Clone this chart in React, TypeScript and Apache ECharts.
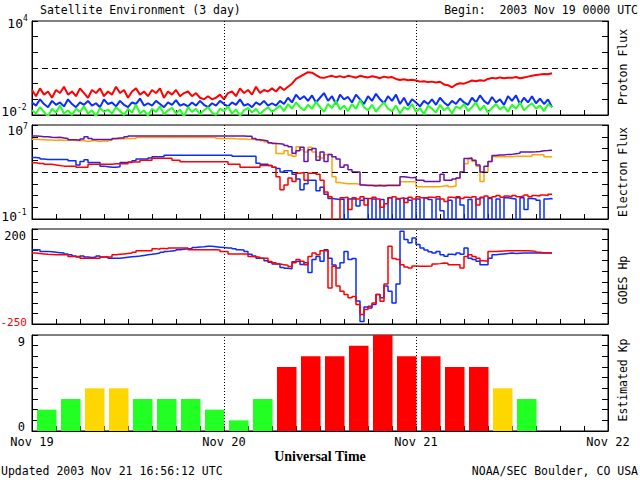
import React, { useEffect, useRef } from 'react';
import * as echarts from 'echarts';

// time step of all sampled series, hours from 2003 Nov 19 00:00 UTC
const STEP_H = 0.5;
const dayLabels = ['Nov 19', 'Nov 20', 'Nov 21', 'Nov 22'];

// Panel 1: proton flux (log10 of value)
const protonRedLog = [
  -0.4, -0.8, -0.3, -0.7, -0.5, -0.9, -0.4, -0.6, -0.2, -0.7,
  -0.5, -0.8, -0.3, -0.6, -0.9, -0.4, -0.6, -0.3, -0.8, -0.5,
  -0.7, -0.2, -0.6, -0.4, -0.9, -0.5, -0.3, -0.7, -0.5, -0.8,
  -0.4, -0.6, -0.3, -0.9, -0.5, -0.7, -0.4, -0.8, -0.6, -0.5,
  -0.8, -0.6, -0.9, -1.0, -0.8, -1.0, -0.9, -0.7, -1.0, -0.6,
  -0.5, -0.8, -0.3, -0.6, -0.4, -0.7, -0.2, -0.6, -0.4, -0.5,
  -0.3, -0.5, -0.2, -0.4, -0.2, 0.0, 0.3, 0.45, 0.6, 0.73,
  0.7, 0.55, 0.4, 0.37, 0.45, 0.5, 0.42, 0.48, 0.4, 0.5,
  0.45, 0.38, 0.5, 0.44, 0.4, 0.47, 0.42, 0.35, 0.45, 0.4,
  0.42, 0.3, 0.24, 0.28, 0.22, 0.25, 0.2, 0.13, 0.16, 0.1,
  0.13, 0.08, 0.12, -0.05, -0.1, -0.23, -0.05, 0.03, 0.0, 0.1,
  0.2, 0.15, 0.22, 0.18, 0.3, 0.37, 0.33, 0.4, 0.35, 0.38,
  0.37, 0.42, 0.35, 0.4, 0.45, 0.5, 0.55, 0.58, 0.62, 0.6,
  0.67,
];
const protonBlueLog = [
  -1.2, -1.4, -1.0, -1.3, -1.5, -1.1, -1.35, -1.2, -1.45, -1.0,
  -1.3, -1.5, -1.2, -1.35, -1.1, -1.4, -1.25, -1.5, -1.0, -1.3,
  -1.2, -1.45, -1.1, -1.35, -1.5, -1.2, -1.3, -0.95, -1.4, -1.25,
  -1.4, -1.1, -1.3, -1.5, -1.2, -1.35, -1.05, -1.4, -1.3, -1.45,
  -1.2, -1.4, -1.1, -1.35, -1.5, -1.25, -1.4, -1.1, -1.3, -1.45,
  -1.2, -1.35, -1.0, -1.4, -1.3, -1.5, -1.2, -1.35, -1.1, -1.4,
  -1.25, -1.4, -1.1, -1.3, -0.9, -1.2, -0.7, -1.0, -0.8, -1.1,
  -0.75, -1.2, -0.9, -0.6, -1.1, -0.8, -1.3, -0.7, -1.0, -0.85,
  -1.2, -0.7, -1.0, -1.3, -0.8, -1.1, -0.65, -1.0, -1.25, -0.8,
  -1.1, -0.7, -1.3, -0.9, -1.4, -1.0, -1.2, -1.45, -1.1, -1.3,
  -1.0, -1.35, -0.9, -1.2, -1.4, -1.1, -1.3, -0.95, -1.2, -1.35,
  -0.9, -1.2, -0.75, -1.1, -1.3, -0.85, -1.2, -1.0, -1.35, -0.8,
  -1.1, -0.75, -1.3, -0.9, -1.2, -0.8, -1.25, -0.95, -1.3, -1.0,
  -1.5,
];
const protonGreenLog = [
  -1.7, -1.9, -1.5, -1.8, -2.1, -1.6, -1.85, -1.4, -1.9, -1.7,
  -2.0, -1.6, -1.8, -1.45, -1.9, -1.7, -2.1, -1.55, -1.8, -1.65,
  -1.9, -1.5, -1.75, -2.0, -1.6, -1.85, -1.35, -1.9, -1.7, -2.05,
  -1.6, -1.8, -1.45, -1.95, -1.7, -1.55, -1.9, -1.65, -2.1, -1.5,
  -1.8, -1.6, -1.95, -1.7, -1.5, -1.85, -2.0, -1.6, -1.75, -1.45,
  -1.9, -1.65, -2.05, -1.7, -1.55, -1.85, -1.6, -1.95, -1.7, -1.5,
  -1.8, -1.6, -1.4, -1.75, -1.3, -1.6, -1.2, -1.5, -1.7, -1.35,
  -1.6, -1.15, -1.5, -1.8, -1.3, -1.55, -1.1, -1.65, -1.4, -1.75,
  -1.3, -1.6, -1.05, -1.5, -1.7, -1.35, -1.8, -1.45, -1.2, -1.6,
  -1.75, -1.4, -1.9, -1.5, -1.65, -1.3, -1.8, -1.55, -1.95, -1.4,
  -1.6, -1.85, -1.35, -1.7, -1.5, -1.9, -1.45, -1.6, -1.3, -1.75,
  -1.5, -1.2, -1.7, -1.4, -1.85, -1.55, -1.3, -1.65, -1.45, -1.8,
  -1.35, -1.6, -1.2, -1.7, -1.45, -1.25, -1.6, -1.4, -1.75, -1.3,
  -1.5,
];

// Panel 2: electron flux (log10 of value)
const elecPurpleLog = [
  6.07, 6.05, 6.0, 6.0, 5.95, 5.93, 5.95, 5.9, 5.85, 5.75,
  5.75, 5.7, 5.8, 6.0, 5.85, 5.76, 5.76, 5.76, 5.76, 5.76,
  5.85, 5.9, 5.9, 6.0, 6.07, 6.07, 6.07, 6.07, 6.07, 6.07,
  6.07, 6.07, 6.07, 6.07, 6.07, 6.07, 6.07, 6.07, 6.07, 6.07,
  6.07, 6.07, 6.07, 6.07, 6.07, 6.07, 6.07, 6.07, 6.07, 6.07,
  6.07, 6.07, 6.07, 6.05, 6.05, 5.85, 5.75, 5.7, 5.64, 5.5,
  5.42, 5.4, 5.37, 5.25, 5.14, 4.6, 4.8, 5.1, 3.9, 4.9,
  5.0, 4.0, 4.7, 3.9, 4.5, 4.3, 4.1, 3.4, 3.6, 3.2,
  3.0, 3.0, 1.9, 1.85, 1.85, 1.8, 1.85, 1.8, 1.85, 1.85,
  1.85, 1.85, 2.6, 2.55, 2.5, 2.55, 2.3, 2.3, 2.2, 2.2,
  2.2, 2.2, 2.8, 2.3, 2.3, 2.4, 2.5, 3.0, 4.15, 4.2,
  4.0, 3.6, 3.0, 3.5, 3.9, 4.4, 4.45, 4.45, 4.5, 4.5,
  4.55, 4.6, 4.7, 4.7, 4.7, 4.72, 4.75, 4.8, 4.82, 4.85,
  4.87,
];
const elecOrangeLog = [
  5.78, 5.77, 5.75, 5.72, 5.72, 5.7, 5.72, 5.7, 5.7, 5.7,
  5.68, 5.65, 5.65, 5.6, 5.65, 5.65, 5.6, 5.65, 5.62, 5.7,
  5.8, 5.8, 5.82, 5.85, 5.85, 5.85, 5.93, 5.93, 5.93, 5.93,
  5.93, 5.93, 5.93, 5.93, 5.93, 5.93, 5.93, 5.93, 5.93, 5.93,
  5.93, 5.93, 5.93, 5.93, 5.93, 5.93, 5.85, 5.85, 5.85, 5.85,
  5.82, 5.8, 5.8, 5.78, 5.77, 5.77, 5.77, 5.65, 5.55, 5.45,
  5.45, 4.58, 4.55, 4.8, 4.45, 4.35, 5.14, 4.9, 4.7, 5.1,
  4.7, 4.3, 4.2, 4.5, 4.5, 2.6, 2.1, 2.05, 2.0, 2.0,
  2.0, 1.95, 1.9, 1.9, 1.9, 1.9, 1.9, 1.9, 1.9, 1.9,
  1.9, 1.9, 2.17, 2.17, 2.17, 2.17, 1.75, 1.75, 1.75, 1.75,
  1.75, 1.75, 1.8, 1.85, 1.75, 1.8, 2.5, 3.0, 3.7, 4.1,
  3.9, 3.5, 2.2, 3.0, 3.9, 4.3, 4.3, 4.3, 4.3, 4.3,
  4.35, 4.35, 4.35, 4.35, 4.35, 4.47, 4.47, 4.47, 4.3, 4.3,
  4.3,
];
const elecBlueLog = [
  4.24, 4.2, 4.1, 4.07, 4.07, 4.07, 4.07, 4.07, 4.07, 3.95,
  3.95, 3.6, 3.9, 4.05, 3.8, 3.8, 3.8, 3.5, 3.45, 3.4,
  3.4, 3.45, 3.8, 3.8, 3.8, 3.95, 4.1, 4.1, 4.1, 4.2,
  4.3, 4.3, 4.3, 4.43, 4.43, 4.43, 4.43, 4.43, 4.43, 4.43,
  4.43, 4.43, 4.43, 4.43, 4.43, 4.43, 4.43, 4.43, 4.43, 4.43,
  4.35, 4.35, 4.35, 4.35, 4.35, 4.35, 3.75, 3.65, 3.65, 3.55,
  3.4, 3.3, 3.0, 3.1, 3.1, 2.8, 2.4, 1.5, 2.0, 2.3,
  2.3, 1.4, 1.7, 1.1, 0.75, 0.7, 0.65, 0.7, -1.2, 0.7,
  0.7, 0.1, 0.6, 0.75, -1.2, 0.7, -1.2, 0.65, -1.2, 0.8,
  -1.2, 0.7, -1.2, 0.75, 0.6, -1.2, 0.7, -1.2, 0.8, 0.65,
  -1.2, 0.7, -0.3, -1.2, 0.6, -1.2, 0.8, 0.2, -1.2, 0.65,
  -1.2, 0.7, 0.8, -1.2, 0.75, -1.2, 0.7, -1.2, 0.8, 0.75,
  0.7, -1.2, 0.8, -0.2, 0.75, 0.7, 0.6, -1.2, 0.7, 0.75,
  0.65,
];
const elecRedLog = [
  3.78, 3.72, 3.72, 3.65, 3.65, 3.6, 3.55, 3.5, 3.5, 3.5,
  3.5, 3.4, 3.4, 3.4, 3.65, 3.65, 3.65, 3.65, 3.65, 3.65,
  3.7, 3.7, 3.7, 3.7, 3.85, 3.85, 3.85, 4.0, 4.0, 4.0,
  4.18, 4.18, 4.18, 4.18, 4.18, 4.0, 4.0, 3.87, 3.87, 3.87,
  3.87, 3.87, 3.87, 3.87, 3.87, 3.87, 3.87, 3.87, 3.87, 3.66,
  3.66, 3.66, 3.4, 3.4, 3.4, 3.4, 3.4, 3.55, 3.55, 3.55,
  3.4, 2.6, 1.5, 1.9, 2.5, 2.2, 2.9, 2.95, 2.3, 2.9,
  2.9, 2.8, 2.3, 1.3, 0.9, -1.2, -1.2, 0.8, 0.85, -0.2,
  0.8, 0.7, 0.9, 0.2, 0.75, 0.85, 0.7, 0.0, 0.3, 0.8,
  0.9, 0.75, 0.8, 0.4, 0.85, 0.7, 0.9, 0.8, 0.75, 0.85,
  0.8, 0.9, 0.7, 0.5, 0.85, 0.8, 0.9, 0.75, 0.85, 0.8,
  0.9, 0.2, 0.85, 0.95, 0.8, 0.9, 1.0, 0.85, 0.95, 0.9,
  1.0, 0.9, 0.95, 1.05, 0.9, 1.0, 0.95, 1.05, 1.0, 1.1,
  1.13,
];

// Panel 3: GOES Hp (nT)
const hpBlue = [
  102, 102, 94, 94, 92, 90, 88, 86, 82, 78,
  72, 67, 72, 67, 65, 67, 72, 67, 67, 62,
  62, 62, 64, 66, 68, 70, 72, 75, 78, 80,
  83, 86, 90, 94, 96, 98, 102, 104, 106, 108,
  112, 115, 116, 118, 118, 116, 114, 112, 110, 110,
  106, 102, 100, 94, 80, 72, 62, 62, 50, 42,
  34, 34, 18, 14, 12, 45, 48, 32, 40, -6,
  55, 70, 47, 102, 62, 30, 15, 40, 94, 55,
  60, -141, -238, -170, -174, -158, -110, -126, -70, -95,
  -150, -60, 189, 150, 135, 157, 126, 110, 100, 92,
  86, 94, 78, 71, 80, 78, 86, 80, 110, 62,
  55, 47, 31, 31, 62, 78, 80, 82, 84, 86,
  84, 85, 86, 86, 86, 86, 86, 86, 86, 86,
  86,
];
const hpRed = [
  86, 84, 82, 80, 79, 78, 78, 78, 78, 70,
  70, 70, 62, 62, 62, 62, 62, 67, 67, 67,
  78, 80, 82, 84, 86, 90, 97, 97, 97, 97,
  107, 104, 108, 106, 110, 110, 110, 110, 110, 102,
  102, 102, 102, 102, 102, 102, 100, 94, 94, 81,
  81, 81, 81, 81, 70, 68, 66, 62, 62, 46,
  40, 34, 31, 28, 22, 40, 55, 47, 31, 70,
  86, 78, 97, 97, -79, 23, -70, -95, -110, -126,
  -120, -158, -205, -181, -166, -150, -110, -142, -60, 118,
  60, 55, 31, 20, 15, 25, 23, 23, 23, 25,
  34, 36, 39, 38, 31, 31, 31, 15, 70, 78,
  70, 62, 50, 47, 94, 94, 95, 96, 97, 97,
  97, 97, 97, 97, 96, 94, 90, 88, 86, 86,
  86,
];

// Panel 4: estimated Kp, one value per 3-hour interval
const KP_HOURS = 3;
const kpValues = [2, 3, 4, 4, 3, 3, 3, 2, 1, 3, 6, 7, 7, 8, 9, 7, 7, 6, 6, 4, 3];

const MONO = "'DejaVu Sans Mono', 'Liberation Mono', monospace";
const C_RED = '#ff0000';
const C_BLUE = '#0a2cff';
const C_GREEN = '#22ff22';
const C_PURPLE = '#6a10b0';
const C_ORANGE = '#ffa500';
const C_YELLOW = '#ffd700';

const asLog = (arr: number[]) => arr.map((v, i) => [i * STEP_H, Math.pow(10, v)]);
const asLin = (arr: number[]) => arr.map((v, i) => [i * STEP_H, v]);

export default function App() {
  const ref = useRef<HTMLDivElement>(null);
  useEffect(() => {
    if (!ref.current) return;
    const chart = echarts.init(ref.current, null, { renderer: 'svg' });

    const grids = [
      { left: 32, right: 32, top: 21, height: 94 },
      { left: 32, right: 32, top: 125, height: 94 },
      { left: 32, right: 32, top: 229, height: 95 },
      { left: 32, right: 32, top: 335, height: 96 },
    ].map((g) => ({ ...g, show: true, borderColor: '#000', borderWidth: 1, backgroundColor: 'transparent' }));

    const xAxes = [0, 1, 2, 3].map((gi) => ({
      type: 'value',
      gridIndex: gi,
      min: 0,
      max: 72,
      interval: 3,
      axisLine: { show: true, onZero: false, lineStyle: { color: '#000', width: 1 } },
      axisTick: { show: true, inside: true, length: 5, lineStyle: { color: '#000' } },
      axisLabel:
        gi === 3
          ? {
              show: true,
              color: '#000',
              fontFamily: MONO,
              fontSize: 12,
              margin: 5,
              formatter: (v: number) => (v % 24 === 0 ? dayLabels[v / 24] : ''),
            }
          : { show: false },
      splitLine: { show: false },
    }));

    const yScales: any[] = [
      { type: 'log', logBase: 10, min: 0.01, max: 10000, splitNumber: 6 },
      { type: 'log', logBase: 10, min: 0.1, max: 10000000, splitNumber: 8 },
      { type: 'value', min: -250, max: 200, interval: 50 },
      { type: 'value', min: 0, max: 9, interval: 1 },
    ];
    const yAxes: any[] = [];
    yScales.forEach((s, gi) => {
      ['left', 'right'].forEach((pos) => {
        yAxes.push({
          ...s,
          gridIndex: gi,
          position: pos,
          axisLine: { show: true, onZero: false, lineStyle: { color: '#000', width: 1 } },
          axisTick: { show: true, inside: true, length: 6, lineStyle: { color: '#000' } },
          axisLabel: { show: false },
          splitLine: { show: false },
        });
      });
    });

    const dotted = { color: '#000', width: 1, type: [1, 2] as any };
    const dashed = { color: '#000', width: 1, type: [6, 4] as any };
    const dayMarks = (extra: any[] = []) => ({
      silent: true,
      symbol: ['none', 'none'],
      label: { show: false },
      lineStyle: dotted,
      data: [{ xAxis: 24 }, { xAxis: 48 }, ...extra],
    });

    const line = (gi: number, data: any[], color: string, width: number, z: number, stepped: boolean, markLine?: any) => ({
      type: 'line',
      xAxisIndex: gi,
      yAxisIndex: gi * 2,
      data,
      step: stepped ? 'end' : false,
      showSymbol: false,
      symbol: 'none',
      clip: true,
      lineStyle: { color, width },
      z,
      ...(markLine ? { markLine } : {}),
    });

    const kpColor = (v: number) => (v >= 5 ? C_RED : v >= 4 ? C_YELLOW : C_GREEN);

    const series: any[] = [
      line(0, asLog(protonRedLog), C_RED, 2, 3, false, dayMarks([{ yAxis: 10, lineStyle: dashed }])),
      line(0, asLog(protonBlueLog), C_BLUE, 2, 4, false),
      line(0, asLog(protonGreenLog), C_GREEN, 2, 5, false),
      line(1, asLog(elecOrangeLog), C_ORANGE, 1.5, 3, true, dayMarks([{ yAxis: 1000, lineStyle: dashed }])),
      line(1, asLog(elecPurpleLog), C_PURPLE, 1.5, 4, true),
      line(1, asLog(elecBlueLog), C_BLUE, 1.5, 5, true),
      line(1, asLog(elecRedLog), C_RED, 1.5, 6, true),
      line(2, asLin(hpBlue), C_BLUE, 1.5, 3, true, dayMarks()),
      line(2, asLin(hpRed), C_RED, 1.5, 4, true),
      {
        type: 'custom',
        xAxisIndex: 3,
        yAxisIndex: 6,
        data: kpValues.map((v, i) => [i * KP_HOURS, v]),
        encode: { x: 0, y: 1 },
        renderItem: (params: any, api: any) => {
          const start = api.value(0);
          const kp = api.value(1);
          const top = api.coord([start, kp]);
          const base = api.coord([start + KP_HOURS, 0]);
          const x0 = top[0] + 5;
          const x1 = base[0] + 0.5;
          return {
            type: 'rect',
            shape: { x: x0, y: top[1], width: x1 - x0, height: base[1] - top[1] },
            style: { fill: kpColor(kp) },
          };
        },
        z: 2,
        markLine: dayMarks(),
      },
    ];

    const txt = (text: string, x: number, y: number, opts: any = {}) => ({
      type: 'text',
      x,
      y,
      silent: true,
      rotation: opts.rotation || 0,
      style: {
        text,
        fill: opts.fill || '#000',
        fontFamily: opts.fontFamily || MONO,
        fontSize: opts.fontSize || 12,
        fontWeight: opts.fontWeight || 'normal',
        align: opts.align || 'left',
        verticalAlign: 'middle',
      },
    });

    const graphic = [
      txt('Satellite Environment (3 day)', 40, 10, { fontSize: 11.5 }),
      txt('Begin:  2003 Nov 19 0000 UTC', 638, 10, { fontSize: 11.5, align: 'right' }),
      // panel 1 labels
      txt('10', 23, 23, { align: 'right', fontSize: 13 }),
      txt('4', 23, 18, { fontSize: 8 }),
      txt('10', 17, 111, { align: 'right', fontSize: 13 }),
      txt('-2', 17, 107, { fontSize: 8 }),
      // panel 2 labels
      txt('10', 23, 130, { align: 'right', fontSize: 13 }),
      txt('7', 23, 126, { fontSize: 8 }),
      txt('10', 17, 216, { align: 'right', fontSize: 13 }),
      txt('-1', 17, 212, { fontSize: 8 }),
      // panel 3 labels
      txt('200', 26, 236, { align: 'right', fontSize: 12 }),
      txt('-250', 27, 322, { align: 'right', fontSize: 11, fill: C_RED }),
      // panel 4 labels
      txt('9', 25, 342, { align: 'right', fontSize: 12 }),
      txt('0', 25, 427, { align: 'right', fontSize: 12 }),
      // right titles
      txt('Proton Flux', 623, 67, { align: 'center', rotation: Math.PI / 2, fontSize: 11.5 }),
      txt('Electron Flux', 623, 172, { align: 'center', rotation: Math.PI / 2, fontSize: 11.5 }),
      txt('GOES Hp', 623, 280, { align: 'center', rotation: Math.PI / 2, fontSize: 11.5 }),
      txt('Estimated Kp', 623, 380, { align: 'center', rotation: Math.PI / 2, fontSize: 11.5 }),
      // bottom
      txt('Universal Time', 320, 456, {
        align: 'center',
        fontFamily: "'Liberation Serif', 'DejaVu Serif', serif",
        fontWeight: 'bold',
        fontSize: 14,
      }),
      txt('Updated 2003 Nov 21 16:56:12 UTC', 1, 471, { fontSize: 11.5 }),
      txt('NOAA/SEC Boulder, CO USA', 638, 471, { fontSize: 11.5, align: 'right' }),
    ];

    chart.setOption({
      animation: false,
      backgroundColor: '#fff',
      grid: grids,
      xAxis: xAxes,
      yAxis: yAxes,
      series,
      graphic,
    } as any);

    return () => chart.dispose();
  }, []);

  return (
    <div
      ref={ref}
      style={{ position: 'fixed', left: 0, top: 0, width: 640, height: 480, background: '#fff' }}
    />
  );
}
